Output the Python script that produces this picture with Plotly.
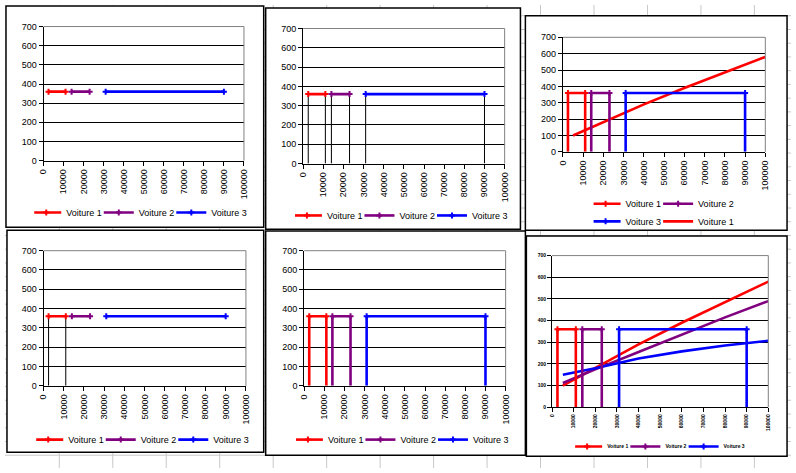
import plotly.graph_objects as go
import numpy as np

W, H = 796, 473

# ---------------- data ----------------
series_names = ["Voiture 1", "Voiture 2", "Voiture 3"]
series_colors = ["#FF0000", "#800080", "#0000FF"]
voiture1_x = [2500, 11000]
voiture2_x = [14000, 23000]
voiture3_x = [31000, 90000]
voiture1_y = [360, 360]
voiture2_y = [360, 360]
voiture3_y = [360, 360]
trend_x = [5000, 20000, 40000, 60000, 80000, 100000]
trend1_y = [100, 180, 290, 390, 485, 580]
trend2_y = [112, 175, 255, 335, 415, 490]
trend3_y = [150, 180, 225, 258, 285, 307]
x_tick_values = list(range(0, 100001, 10000))
y_tick_values = list(range(0, 701, 100))

series_x = [voiture1_x, voiture2_x, voiture3_x]
series_y = [voiture1_y, voiture2_y, voiture3_y]
trend_ys = [trend1_y, trend2_y, trend3_y]

# ---------------- layout helpers ----------------
def fx(px):
    return px / W

def fy(py):
    return 1 - py / H

# panel frame box, plot area (left, top, right, bottom) in pixels
panels = [
    dict(box=(1, 1, 262, 227), plot=(39, 22, 242, 159), drop=None, drop_on=[], trends=[],
         legends=[("legend", [0, 1, 2], 140, 212)], font=9, bold=False),
    dict(box=(264, 3, 522, 229), plot=(302, 24, 506, 162), drop="black", drop_on=[0, 1, 2], trends=[],
         legends=[("legend2", [0, 1, 2], 404, 215)], font=9, bold=False),
    dict(box=(527, 11, 792, 230), plot=(565, 33, 770, 150), drop="color", drop_on=[0, 1, 2], trends=[0],
         legends=[("legend3", [0, 1], 670, 203), ("legend4", [2, "t0"], 670, 221)], font=9, bold=False),
    dict(box=(2, 230, 262, 457), plot=(39, 251, 244, 389), drop="black", drop_on=[0], trends=[],
         legends=[("legend5", [0, 1, 2], 142, 444)], font=9, bold=False),
    dict(box=(264, 231, 527, 460), plot=(303, 251, 507, 389), drop="color", drop_on=[0, 1, 2], trends=[],
         legends=[("legend6", [0, 1, 2], 405, 444)], font=9, bold=False),
    dict(box=(528, 236, 792, 461), plot=(554, 256, 773, 411), drop="color", drop_on=[0, 1, 2], trends=[0, 1, 2],
         legends=[("legend7", [0, 1, 2], 666, 451)], font=5, bold=True),
]

fig = go.Figure()
shapes = []

# spreadsheet cell grid in the background
for k in range(14):
    xc = 55 + 54.15 * k
    shapes.append(dict(type="line", xref="paper", yref="paper", x0=fx(xc), x1=fx(xc), y0=0, y1=1,
                       line=dict(color="#C8C8C8", width=1), layer="below"))
for k in range(-2, 34):
    yc = 25 + 14.03 * k
    if 0 <= yc <= H:
        shapes.append(dict(type="line", xref="paper", yref="paper", x0=0, x1=1, y0=fy(yc), y1=fy(yc),
                           line=dict(color="#C8C8C8", width=1), layer="below"))

layout_axes = {}
for i, p in enumerate(panels):
    n = i + 1
    xs = "" if n == 1 else str(n)
    l, t, r, b = p["plot"]
    bx0, by0, bx1, by1 = p["box"]
    # chart frame
    shapes.append(dict(type="rect", xref="paper", yref="paper", x0=fx(bx0), x1=fx(bx1), y0=fy(by1), y1=fy(by0),
                       fillcolor="white", line=dict(color="black", width=1.5), layer="below"))
    # grey plot-area border (top and right)
    shapes.append(dict(type="line", xref=f"x{xs} domain", yref=f"y{xs} domain", x0=0, x1=1, y0=1, y1=1,
                       line=dict(color="#808080", width=1), layer="above"))
    shapes.append(dict(type="line", xref=f"x{xs} domain", yref=f"y{xs} domain", x0=1, x1=1, y0=0, y1=1,
                       line=dict(color="#808080", width=1), layer="above"))

    tf = dict(family="Liberation Sans, Arial, sans-serif", size=p["font"], color="black",
              weight="bold" if p["bold"] else "normal")
    layout_axes[f"xaxis{xs}"] = dict(
        domain=[fx(l), fx(r)], anchor=f"y{xs}", range=[0, 100000], tickvals=x_tick_values,
        tickformat="d", tickangle=-90, showgrid=False, zeroline=False, showline=True,
        linecolor="black", linewidth=1, ticks="outside", ticklen=4, tickcolor="black",
        tickfont=tf, fixedrange=True)
    layout_axes[f"yaxis{xs}"] = dict(
        domain=[fy(b), fy(t)], anchor=f"x{xs}", range=[0, 700], tickvals=y_tick_values,
        showgrid=True, gridcolor="black", gridwidth=1, zeroline=False, showline=True,
        linecolor="black", linewidth=1, ticks="outside", ticklen=4, tickcolor="black",
        tickfont=tf, fixedrange=True)

    legend_of = {}
    for (lname, items, lx, ly) in p["legends"]:
        for it in items:
            legend_of[it] = lname

    # trend lines (drawn under the step series)
    for tk in p["trends"]:
        key = f"t{tk}"
        fig.add_trace(go.Scatter(
            x=trend_x, y=trend_ys[tk], mode="lines", name=series_names[tk],
            line=dict(color=series_colors[tk], width=2.6),
            xaxis=f"x{xs}", yaxis=f"y{xs}", legendrank=900,
            showlegend=key in legend_of, legend=legend_of.get(key, "legend"),
            hoverinfo="skip"))

    for s in range(3):
        err = None
        if p["drop"] is not None and s in p["drop_on"]:
            ec = "black" if p["drop"] == "black" else series_colors[s]
            ew = 1 if p["drop"] == "black" else 2.6
            err = dict(type="data", symmetric=False, array=[0] * len(series_y[s]),
                       arrayminus=series_y[s], color=ec, thickness=ew, width=0, visible=True)
        fig.add_trace(go.Scatter(
            x=series_x[s], y=series_y[s], mode="lines+markers", name=series_names[s],
            line=dict(color=series_colors[s], width=2.6),
            marker=dict(symbol="cross", size=5, color=series_colors[s]),
            error_y=err, legendrank=100 + s,
            xaxis=f"x{xs}", yaxis=f"y{xs}",
            showlegend=s in legend_of, legend=legend_of.get(s, "legend"),
            hoverinfo="skip"))

    for (lname, items, lx, ly) in p["legends"]:
        lf = dict(family="Liberation Sans, Arial, sans-serif", size=p["font"], color="black",
                  weight="bold" if p["bold"] else "normal")
        layout_axes[lname] = dict(
            x=fx(lx), y=fy(ly), xanchor="center", yanchor="middle", orientation="h",
            bgcolor="rgba(0,0,0,0)", borderwidth=0, font=lf, indentation=-8,
            itemwidth=30, traceorder="normal")

fig.update_layout(
    width=W, height=H, margin=dict(l=0, r=0, t=0, b=0),
    paper_bgcolor="white", plot_bgcolor="rgba(0,0,0,0)",
    showlegend=True, shapes=shapes, **layout_axes)

fig.write_html("out.html", config={"displayModeBar": False},
               post_script="document.body.style.margin='0';document.body.style.overflow='hidden';"
                           "document.documentElement.style.overflow='hidden';")
